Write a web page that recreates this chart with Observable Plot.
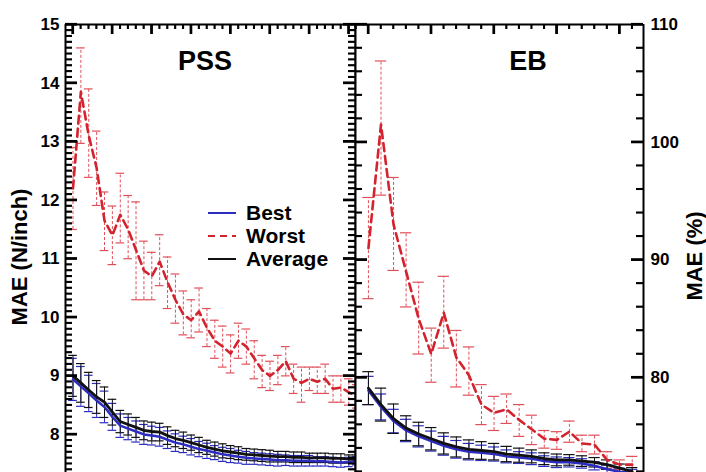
<!DOCTYPE html>
<html><head><meta charset="utf-8">
<script src="https://cdn.jsdelivr.net/npm/d3@7"></script>
<script src="https://cdn.jsdelivr.net/npm/@observablehq/plot@0.6"></script>
<style>
body{margin:0;background:#fff;}
#wrap{position:relative;width:706px;height:472px;overflow:hidden;background:#fff;font-family:"Liberation Sans",Arial,sans-serif;font-weight:bold;color:#000;}
#wrap > svg{position:absolute;top:0;}
.t{position:absolute;white-space:nowrap;line-height:1;}
.rot{transform:translate(-50%,-50%) rotate(-90deg);}
</style></head><body><div id="wrap"></div>
<script>
const pssX = [5,6,7,8,9,10,11,12,13,14,15,16,17,18,19,20,21,22,23,24,25,26,27,28,29,30,31,32,33,34,35,36,37,38,39,40,41];
const pssWorst = [12.2,13.85,13.1,12.55,11.65,11.4,11.75,11.5,11.15,10.8,10.7,10.95,10.6,10.3,10.05,9.95,10.1,9.82,9.6,9.5,9.38,9.6,9.5,9.3,9.1,9.0,9.1,9.25,8.95,8.88,8.95,8.9,8.95,8.78,8.8,8.72,8.65];
const pssWorstLo = [11.5,12.97,12.39,11.91,11.14,10.9,11.27,11.0,10.3,10.3,10.3,10.54,10.15,9.9,9.7,9.65,9.75,9.5,9.3,9.15,9.05,9.3,9.2,8.95,8.8,8.75,8.85,9.0,8.7,8.55,8.75,8.7,8.7,8.55,8.55,8.5,8.45];
const pssWorstHi = [12.9,14.6,13.9,13.18,12.14,11.9,12.46,12.08,11.97,11.3,11.11,11.41,11.03,10.74,10.45,10.3,10.5,10.15,9.95,9.85,9.7,9.9,9.8,9.6,9.35,9.25,9.35,9.5,9.2,9.15,9.15,9.15,9.2,9.0,9.0,8.95,8.85];
const pssBest = [8.94,8.82,8.7,8.58,8.47,8.3,8.15,8.1,8.05,8.0,7.98,7.96,7.91,7.86,7.83,7.79,7.75,7.72,7.69,7.66,7.64,7.62,7.6,7.59,7.58,7.57,7.56,7.56,7.55,7.55,7.55,7.54,7.54,7.53,7.52,7.53,7.55];
const pssBestErr = [0.36,0.34,0.31,0.29,0.27,0.23,0.2,0.19,0.18,0.17,0.16,0.16,0.15,0.15,0.14,0.14,0.13,0.13,0.12,0.12,0.12,0.11,0.11,0.1,0.1,0.1,0.1,0.09,0.09,0.09,0.09,0.08,0.08,0.08,0.08,0.08,0.07];
const pssAvg = [9.0,8.88,8.76,8.64,8.55,8.38,8.22,8.17,8.12,8.07,8.05,8.04,7.98,7.93,7.9,7.86,7.82,7.78,7.75,7.72,7.7,7.68,7.66,7.65,7.64,7.63,7.62,7.62,7.61,7.61,7.6,7.6,7.6,7.59,7.59,7.58,7.58];
const pssAvgErr = [0.35,0.33,0.3,0.28,0.26,0.22,0.19,0.18,0.17,0.16,0.16,0.15,0.15,0.14,0.14,0.13,0.13,0.12,0.12,0.12,0.11,0.11,0.1,0.1,0.1,0.1,0.09,0.09,0.09,0.09,0.08,0.08,0.08,0.08,0.08,0.07,0.07];
const pssYTicks = [8,9,10,11,12,13,14,15];

const ebX = [5,6,7,8,9,10,11,12,13,14,15,16,17,18,19,20,21,22,23,24,25,26];
const ebWorst = [91.0,101.5,93.0,89.0,85.0,82.0,85.5,81.7,80.2,77.7,77.0,77.3,76.4,75.6,74.8,74.7,75.4,74.4,74.3,73.0,72.6,72.6];
const ebWorstLo = [86.7,95.5,89.1,86.0,82.0,79.6,82.5,79.2,78.5,76.0,75.5,76.1,75.0,74.3,74.0,73.9,74.5,73.7,73.5,72.3,72.2,71.9];
const ebWorstHi = [95.3,106.9,97.0,92.3,88.1,84.2,88.6,84.0,82.6,79.4,78.4,78.6,77.7,76.8,75.5,75.4,76.3,75.1,75.1,73.7,73.0,73.3];
const ebBest = [78.9,77.5,76.3,75.5,75.0,74.6,74.2,73.9,73.7,73.6,73.5,73.3,73.2,73.1,72.9,72.8,72.8,72.7,72.5,72.2,72.0,71.9];
const ebBestErr = [1.2,1.1,1.0,0.95,0.9,0.85,0.8,0.75,0.7,0.65,0.6,0.55,0.5,0.5,0.45,0.45,0.4,0.4,0.35,0.35,0.3,0.3];
const ebAvg = [79.1,77.7,76.5,75.7,75.2,74.8,74.4,74.1,73.9,73.8,73.7,73.5,73.4,73.3,73.1,73.0,73.0,72.9,72.8,72.6,72.3,72.0];
const ebAvgErr = [1.4,1.4,1.25,1.05,1.0,0.95,0.9,0.85,0.8,0.75,0.7,0.65,0.6,0.55,0.5,0.5,0.45,0.45,0.4,0.4,0.35,0.35];
const ebYTicks = [80,90,100,110];

const seriesNames = ["Best","Worst","Average"];
const colors = {best:"#2c2cc0", worst:"#d2232e", worstBar:"#e0505a", avg:"#111111"};

const H = 472, MT = 24, MB = 0;

function rows(x, w, wlo, whi, b, be, a, ae){
  return x.map((v,i)=>({v, w:w[i], wlo:wlo[i], whi:whi[i], b:b[i], blo:b[i]-be[i], bhi:b[i]+be[i], a:a[i], alo:a[i]-ae[i], ahi:a[i]+ae[i]}));
}

function errMarks(data, lo, hi, stroke, cap, dash){
  return [
    Plot.ruleX(data, {x:"v", y1:lo, y2:hi, stroke, strokeWidth:1, strokeDasharray:dash, clip:true}),
    Plot.ruleY(data, {y:lo, x1:d=>d.v-cap, x2:d=>d.v+cap, stroke, strokeWidth:1.2, clip:true}),
    Plot.ruleY(data, {y:hi, x1:d=>d.v-cap, x2:d=>d.v+cap, stroke, strokeWidth:1.2, clip:true})
  ];
}

const overlayTicks = [];

function panel(o){
  const pw = o.width - o.ml - o.mr, ph = H - MT - MB;
  const kx = (o.xDomain[1]-o.xDomain[0]) / pw;
  const ky = (o.yDomain[1]-o.yDomain[0]) / ph;
  const xa = o.xDomain[0], xb = o.xDomain[1], yTop = o.yDomain[1];
  const data = o.data;
  const hRows = [];
  o.yMajor.forEach(v=>{ hRows.push({y:v, a:xa, b:xa+o.majL*kx, w:2.2}); hRows.push({y:v, a:xb-o.majL*kx, b:xb, w:2.2}); });
  o.yMinor.forEach(v=>{ hRows.push({y:v, a:xa, b:xa+o.minL*kx, w:1.6}); hRows.push({y:v, a:xb-o.minL*kx, b:xb, w:1.6}); });
  const vRows = [];
  o.xMajor.forEach(v=>vRows.push({x:v, a:yTop, b:yTop-10*ky, w:2.2}));
  o.xMinor.forEach(v=>vRows.push({x:v, a:yTop, b:yTop-5*ky, w:1.6}));
  const marks = [
    ...errMarks(data, "wlo", "whi", colors.worstBar, o.cap, "3,2"),
    ...errMarks(data, "blo", "bhi", colors.best, o.cap, null),
    ...errMarks(data, "alo", "ahi", colors.avg, o.cap, null),
    Plot.line(data, {x:"v", y:"b", stroke:colors.best, strokeWidth:2.5, clip:true}),
    Plot.line(data, {x:"v", y:"a", stroke:colors.avg, strokeWidth:2.8, clip:true}),
    Plot.line(data, {x:"v", y:"w", stroke:colors.worst, strokeWidth:2.6, strokeDasharray:"8,5", clip:true}),
    Plot.ruleY(hRows, {y:"y", x1:"a", x2:"b", stroke:"#000", strokeWidth:"w", clip:true}),
    Plot.ruleX(vRows, {x:"x", y1:"a", y2:"b", stroke:"#000", strokeWidth:"w", clip:true}),
    Plot.ruleX([xa], {stroke:"#000", strokeWidth:2}),
    Plot.ruleX([xb], {stroke:"#000", strokeWidth:2}),
    Plot.ruleY([yTop], {stroke:"#000", strokeWidth:2}),
    Plot.axisY(o.labelTicks, {anchor:o.anchor, tickSize:0, tickPadding:o.pad, tickFormat:d3.format("d"), label:null, fontSize:17, fontWeight:"bold"})
  ];
  const svg = Plot.plot({
    width:o.width, height:H, marginLeft:o.ml, marginRight:o.mr, marginTop:MT, marginBottom:MB,
    x:{domain:o.xDomain, axis:null},
    y:{domain:o.yDomain},
    style:{background:"transparent", fontFamily:"Liberation Sans, Arial, sans-serif", fontWeight:"bold", fontSize:"17px", color:"#000"},
    marks
  });
  const sx = svg.scale("x"), sy = svg.scale("y");
  hRows.forEach(r => overlayTicks.push({x1:o.left + sx.apply(r.a), x2:o.left + sx.apply(r.b), y1:sy.apply(r.y), y2:sy.apply(r.y), w:r.w}));
  vRows.forEach(r => overlayTicks.push({x1:o.left + sx.apply(r.x), x2:o.left + sx.apply(r.x), y1:sy.apply(r.a), y2:sy.apply(r.b), w:r.w}));
  return svg;
}

const wrap = document.getElementById("wrap");

const left = panel({
  data: rows(pssX, pssWorst, pssWorstLo, pssWorstHi, pssBest, pssBestErr, pssAvg, pssAvgErr),
  left:0, width:356, ml:65, mr:1, xDomain:[4.05,40.85], yDomain:[7.35,15],
  yMajor:[8,9,10,11,12,13,14,15], yMinor:d3.range(74,150).filter(v=>v%10!==0).map(v=>v/10),
  xMajor:[5,10,15,20,25,30,35,40], xMinor:d3.range(5,41).filter(v=>v%5!==0),
  majL:12, minL:7, cap:0.55, labelTicks:pssYTicks, anchor:"left", pad:6
});
left.style.left = "0px";
wrap.appendChild(left);

const right = panel({
  data: rows(ebX, ebWorst, ebWorstLo, ebWorstHi, ebBest, ebBestErr, ebAvg, ebAvgErr),
  left:354, width:352, ml:1, mr:63, xDomain:[3.97,26.9], yDomain:[71.93,110],
  yMajor:[80,90,100,110], yMinor:[72,74,76,78,82,84,86,88,92,94,96,98,102,104,106,108],
  xMajor:[5,10,15,20,25], xMinor:d3.range(4,27).filter(v=>v%5!==0),
  majL:12, minL:7, cap:0.45, labelTicks:ebYTicks, anchor:"right", pad:7
});
right.style.left = "354px";
wrap.appendChild(right);

const ov = d3.create("svg").attr("width",706).attr("height",472)
  .style("position","absolute").style("left","0px").style("top","0px").style("pointer-events","none");
ov.selectAll("line").data(overlayTicks).join("line")
  .attr("x1",d=>d.x1).attr("x2",d=>d.x2).attr("y1",d=>d.y1).attr("y2",d=>d.y2)
  .attr("stroke","#000").attr("stroke-width",d=>d.w);
wrap.appendChild(ov.node());

function addText(txt, css, cls){
  const d = document.createElement("div");
  d.className = "t" + (cls ? " " + cls : "");
  d.textContent = txt;
  Object.assign(d.style, css);
  wrap.appendChild(d);
  return d;
}
addText("PSS", {left:"205px", top:"48px", fontSize:"27px", transform:"translateX(-50%)"});
addText("EB", {left:"528px", top:"48px", fontSize:"27px", transform:"translateX(-50%)"});
addText("MAE (N/inch)", {left:"20px", top:"257px", fontSize:"22px"}, "rot");
addText("MAE (%)", {left:"695px", top:"256px", fontSize:"22px"}, "rot");

const legendStyles = [
  {stroke:colors.best, dash:null, y:213},
  {stroke:colors.worst, dash:"7,5", y:236},
  {stroke:colors.avg, dash:null, y:259}
];
seriesNames.forEach((name,i)=>{
  const s = legendStyles[i];
  const svg = d3.create("svg").attr("width",30).attr("height",8)
    .style("position","absolute").style("left","208px").style("top",(s.y-4)+"px");
  svg.append("line").attr("x1",0).attr("x2",28).attr("y1",4).attr("y2",4)
    .attr("stroke",s.stroke).attr("stroke-width",2).attr("stroke-dasharray",s.dash);
  wrap.appendChild(svg.node());
  addText(name, {left:"246px", top:(s.y-11)+"px", fontSize:"21px"});
});
</script>
</body></html>
